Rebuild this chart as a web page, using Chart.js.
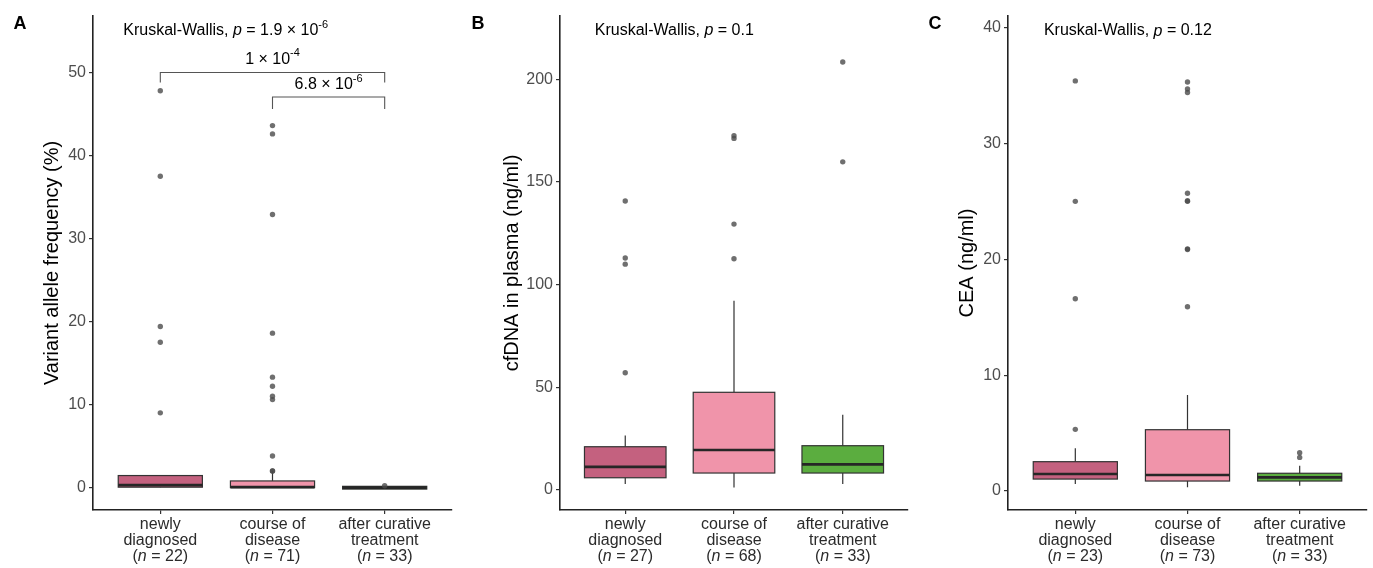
<!DOCTYPE html>
<html>
<head>
<meta charset="utf-8">
<script src="https://cdn.jsdelivr.net/npm/chart.js@4/dist/chart.umd.min.js"></script>
<style>
body { margin: 0; background: #fff; width: 1373px; height: 568px; position: relative; overflow: hidden; }
canvas { position: absolute; top: 0; }
</style>
</head>
<body>
<canvas id="chartA" width="460" height="568" style="left:0px"></canvas>
<canvas id="chartB" width="455" height="568" style="left:460px"></canvas>
<canvas id="chartC" width="458" height="568" style="left:915px"></canvas>
<script>
const FONT = "'Liberation Sans', Arial, sans-serif";

// groups
const categories = [["newly", "diagnosed"], ["course of", "disease"], ["after curative", "treatment"]];
const groupColors = ["#c4617f", "#f094aa", "#5bad3f"];

// A - variant allele frequency (%)
const vafN = [22, 71, 33];
const vafLow = [0, 0, -0.15];
const vafQ1 = [0.05, 0, -0.18];
const vafMed = [0.3, 0.05, 0];
const vafQ3 = [1.45, 0.8, 0.15];
const vafHigh = [1.45, 2.0, 0.15];
const vafOut = [[47.8, 37.5, 19.4, 17.5, 9.0], [43.6, 42.6, 32.9, 18.6, 13.3, 12.2, 11.0, 10.6, 3.8, 2.0, 2.0], [0.22]];
const vafTicks = [0, 10, 20, 30, 40, 50];

// B - cfDNA in plasma (ng/ml)
const cfN = [27, 68, 33];
const cfLow = [2.9, 1.3, 2.9];
const cfQ1 = [6.0, 8.3, 8.3];
const cfMed = [11.3, 19.5, 12.5];
const cfQ3 = [21.1, 47.6, 21.6];
const cfHigh = [26.6, 92.2, 36.7];
const cfOut = [[57.1, 110, 113, 140.7], [112.6, 129.5, 171.2, 172.5], [159.8, 208.4]];
const cfTicks = [0, 50, 100, 150, 200];

// C - CEA (ng/ml)
const ceaN = [23, 73, 33];
const ceaLow = [0.6, 0.32, 0.46];
const ceaQ1 = [1.03, 0.86, 0.86];
const ceaMed = [1.47, 1.38, 1.18];
const ceaQ3 = [2.53, 5.29, 1.53];
const ceaHigh = [3.68, 8.28, 2.18];
const ceaOut = [[5.32, 16.6, 25.0, 35.4], [15.9, 20.85, 20.9, 25.0, 25.05, 25.7, 34.4, 34.7, 35.3], [2.9, 3.3]];
const ceaTicks = [0, 10, 20, 30, 40];

// draw text made of runs (italic / superscript)
const drawRuns = (ctx, runs, x, y, size, align) => {
    const fontFor = r => `${r.italic ? "italic " : ""}${r.sup ? Math.round(size * 0.7) : size}px ${FONT}`;
    let total = 0;
    runs.forEach(r => { ctx.font = fontFor(r); total += ctx.measureText(r.t).width; });
    let cx = align === "center" ? x - total / 2 : x;
    ctx.textAlign = "left";
    ctx.textBaseline = "middle";
    runs.forEach(r => {
        ctx.font = fontFor(r);
        ctx.fillText(r.t, cx, r.sup ? y - size * 0.38 : y);
        cx += ctx.measureText(r.t).width;
    });
};

const boxPlugin = {
    id: "boxes",
    beforeDatasetsDraw(chart, args, opts) {
        const { ctx, scales: { x, y } } = chart;
        ctx.save();
        opts.q1.forEach((q1, i) => {
            const cx = x.getPixelForValue(i + 1);
            const half = (x.getPixelForValue(i + 1 + 0.375) - x.getPixelForValue(i + 1 - 0.375)) / 2;
            ctx.strokeStyle = "#333";
            ctx.lineWidth = 1.2;
            ctx.beginPath();
            ctx.moveTo(cx, y.getPixelForValue(opts.low[i]));
            ctx.lineTo(cx, y.getPixelForValue(q1));
            ctx.moveTo(cx, y.getPixelForValue(opts.q3[i]));
            ctx.lineTo(cx, y.getPixelForValue(opts.high[i]));
            ctx.stroke();
            const top = y.getPixelForValue(opts.q3[i]);
            const bot = y.getPixelForValue(q1);
            ctx.fillStyle = groupColors[i];
            ctx.fillRect(cx - half, top, half * 2, bot - top);
            ctx.strokeRect(cx - half, top, half * 2, bot - top);
            ctx.strokeStyle = "#262626";
            ctx.lineWidth = 2.6;
            ctx.beginPath();
            const ym = y.getPixelForValue(opts.med[i]);
            ctx.moveTo(cx - half, ym);
            ctx.lineTo(cx + half, ym);
            ctx.stroke();
        });
        ctx.restore();
    }
};

const textPlugin = {
    id: "texts",
    afterDraw(chart, args, opts) {
        const { ctx, scales: { x, y } } = chart;
        ctx.save();
        ctx.fillStyle = "#000";
        ctx.font = `bold 18px ${FONT}`;
        ctx.textAlign = "center";
        ctx.textBaseline = "middle";
        ctx.fillText(opts.letter, opts.letterX, 24);

        drawRuns(ctx, opts.kw, x.getPixelForValue(opts.kwAt[0]), y.getPixelForValue(opts.kwAt[1]), 16, "left");

        (opts.brackets || []).forEach(b => {
            const x1 = x.getPixelForValue(b.from), x2 = x.getPixelForValue(b.to);
            const yb = y.getPixelForValue(b.y), yt = y.getPixelForValue(b.tip);
            ctx.strokeStyle = "#555";
            ctx.lineWidth = 1.1;
            ctx.beginPath();
            ctx.moveTo(x1, yt); ctx.lineTo(x1, yb); ctx.lineTo(x2, yb); ctx.lineTo(x2, yt);
            ctx.stroke();
            ctx.fillStyle = "#000";
            drawRuns(ctx, b.label, (x1 + x2) / 2, y.getPixelForValue(b.labelY), 16, "center");
        });

        // category labels
        ctx.fillStyle = "#2b2b2b";
        categories.forEach((lines, i) => {
            const cx = x.getPixelForValue(i + 1);
            ctx.font = `16px ${FONT}`;
            ctx.textAlign = "center";
            ctx.fillText(lines[0], cx, x.top + 15);
            ctx.fillText(lines[1], cx, x.top + 31);
            drawRuns(ctx, [{ t: "(" }, { t: "n", italic: true }, { t: ` = ${opts.n[i]})` }], cx, x.top + 47, 16, "center");
        });
        ctx.restore();
    }
};

const makePanel = (id, cfg) => {
    const outliers = [];
    cfg.out.forEach((vals, i) => vals.forEach(v => outliers.push({ x: i + 1, y: v })));
    return new Chart(document.getElementById(id), {
        type: "scatter",
        data: {
            datasets: [{
                data: outliers,
                pointRadius: 2.7,
                pointBackgroundColor: "rgba(75,75,75,0.8)",
                pointBorderWidth: 0
            }]
        },
        plugins: [boxPlugin, textPlugin],
        options: {
            responsive: false,
            animation: false,
            layout: { padding: { top: 16, right: cfg.padRight, left: 0, bottom: 0 } },
            plugins: {
                legend: { display: false },
                tooltip: { enabled: false },
                boxes: { low: cfg.low, q1: cfg.q1, med: cfg.med, q3: cfg.q3, high: cfg.high },
                texts: { letter: cfg.letter, letterX: cfg.letterX, kw: cfg.kw, kwAt: cfg.kwAt, brackets: cfg.brackets, n: cfg.n }
            },
            scales: {
                x: {
                    type: "linear",
                    min: 0.4,
                    max: 3.6,
                    afterBuildTicks: s => { s.ticks = categories.map((c, i) => ({ value: i + 1 })); },
                    afterFit: s => { s.height = 58; },
                    ticks: { display: false },
                    grid: { drawOnChartArea: false, drawTicks: true, tickLength: 4, color: "#333", lineWidth: 1.2 },
                    border: { display: true, color: "#222", width: 1.6 }
                },
                y: {
                    min: cfg.min,
                    max: cfg.max,
                    afterBuildTicks: s => { s.ticks = cfg.ticks.map(v => ({ value: v })); },
                    afterFit: s => { s.width = cfg.plotLeft; },
                    ticks: { color: "#4d4d4d", font: { family: FONT, size: 16 }, padding: 3 },
                    grid: { drawOnChartArea: false, drawTicks: true, tickLength: 4, color: "#333", lineWidth: 1.2 },
                    border: { display: true, color: "#222", width: 1.6 },
                    title: { display: true, text: cfg.title, color: "#000", font: { family: FONT, size: 20 }, padding: { top: 40, bottom: 0 } }
                }
            }
        }
    });
};

makePanel("chartA", {
    letter: "A", letterX: 20, plotLeft: 93, padRight: 8,
    min: -2.7, max: 56.8, ticks: vafTicks, title: "Variant allele frequency (%)",
    low: vafLow, q1: vafQ1, med: vafMed, q3: vafQ3, high: vafHigh, out: vafOut, n: vafN,
    kw: [{ t: "Kruskal-Wallis, " }, { t: "p", italic: true }, { t: " = 1.9 × 10" }, { t: "-6", sup: true }],
    kwAt: [0.67, 55.0],
    brackets: [
        { from: 1, to: 3, y: 50.0, tip: 48.8, labelY: 51.6, label: [{ t: "1 × 10" }, { t: "-4", sup: true }] },
        { from: 2, to: 3, y: 47.05, tip: 45.6, labelY: 48.5, label: [{ t: "6.8 × 10" }, { t: "-6", sup: true }] }
    ]
});

makePanel("chartB", {
    letter: "B", letterX: 18, plotLeft: 100, padRight: 7,
    min: -9.7, max: 230.8, ticks: cfTicks, title: "cfDNA in plasma (ng/ml)",
    low: cfLow, q1: cfQ1, med: cfMed, q3: cfQ3, high: cfHigh, out: cfOut, n: cfN,
    kw: [{ t: "Kruskal-Wallis, " }, { t: "p", italic: true }, { t: " = 0.1" }],
    kwAt: [0.72, 223.5]
});

makePanel("chartC", {
    letter: "C", letterX: 20, plotLeft: 93, padRight: 6,
    min: -1.64, max: 41.0, ticks: ceaTicks, title: "CEA (ng/ml)",
    low: ceaLow, q1: ceaQ1, med: ceaMed, q3: ceaQ3, high: ceaHigh, out: ceaOut, n: ceaN,
    kw: [{ t: "Kruskal-Wallis, " }, { t: "p", italic: true }, { t: " = 0.12" }],
    kwAt: [0.72, 39.7]
});
</script>
</body>
</html>
